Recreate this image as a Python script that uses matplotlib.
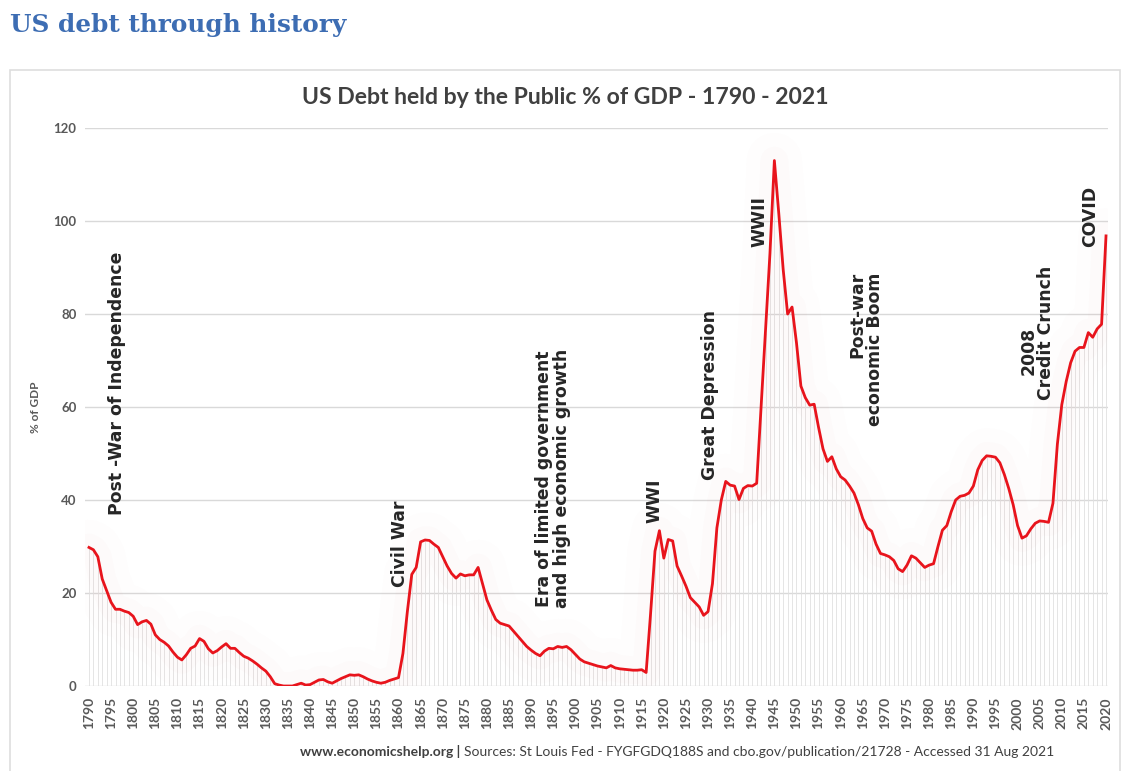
import numpy as np
import matplotlib
matplotlib.use("Agg")
import matplotlib.pyplot as plt
from matplotlib.patches import Rectangle

# US debt held by the public, % of GDP
years = list(range(1790, 2021))
debt_pct = [
    # 1790-1799
    29.8, 29.3, 27.8, 23.0, 20.5, 18.0, 16.5, 16.5, 16.1, 15.8,
    # 1800-1809
    15.0, 13.2, 13.8, 14.1, 13.3, 11.0, 10.0, 9.4, 8.6, 7.3,
    # 1810-1819
    6.2, 5.6, 6.7, 8.1, 8.6, 10.2, 9.6, 8.0, 7.1, 7.6,
    # 1820-1829
    8.4, 9.1, 8.1, 8.1, 7.2, 6.4, 6.0, 5.4, 4.7, 3.9,
    # 1830-1839
    3.2, 2.0, 0.5, 0.2, 0.0, 0.0, 0.0, 0.3, 0.6, 0.2,
    # 1840-1849
    0.3, 0.8, 1.3, 1.4, 0.9, 0.6, 1.1, 1.6, 2.0, 2.4,
    # 1850-1859
    2.3, 2.4, 2.0, 1.5, 1.1, 0.8, 0.6, 0.8, 1.2, 1.5,
    # 1860-1869
    1.8, 7.0, 16.0, 24.0, 25.5, 31.0, 31.4, 31.3, 30.5, 29.8,
    # 1870-1879
    27.8, 25.8, 24.2, 23.2, 24.1, 23.7, 23.9, 23.9, 25.5, 22.0,
    # 1880-1889
    18.5, 16.3, 14.3, 13.5, 13.2, 12.9, 11.8, 10.7, 9.6, 8.5,
    # 1890-1899
    7.7, 7.0, 6.5, 7.5, 8.1, 8.0, 8.5, 8.3, 8.5, 7.8,
    # 1900-1909
    6.8, 5.8, 5.2, 4.9, 4.6, 4.3, 4.1, 3.9, 4.4, 3.9,
    # 1910-1919
    3.7, 3.6, 3.5, 3.4, 3.4, 3.5, 2.9, 15.5, 29.0, 33.4,
    # 1920-1929
    27.5, 31.5, 31.2, 25.8, 23.7, 21.5, 19.0, 18.0, 17.0, 15.2,
    # 1930-1939
    16.0, 22.0, 34.0, 40.0, 44.0, 43.2, 43.0, 40.1, 42.5, 43.1,
    # 1940-1949
    43.0, 43.6, 60.0, 76.0, 93.0, 113.0, 101.6, 89.5, 80.0, 81.5,
    # 1950-1959
    73.8, 64.5, 62.0, 60.4, 60.6, 55.6, 51.0, 48.3, 49.3, 46.7,
    # 1960-1969
    45.0, 44.3, 43.0, 41.5, 39.0, 36.0, 34.0, 33.3, 30.5, 28.5,
    # 1970-1979
    28.2, 27.8, 27.0, 25.2, 24.6, 26.0, 28.0, 27.5, 26.5, 25.5,
    # 1980-1989
    26.0, 26.3, 30.0, 33.5, 34.5, 37.5, 40.0, 40.8, 41.0, 41.5,
    # 1990-1999
    43.0, 46.5, 48.5, 49.5, 49.4, 49.2, 48.0, 45.5, 42.5, 39.0,
    # 2000-2009
    34.5, 31.8, 32.3, 33.8, 35.0, 35.5, 35.4, 35.2, 39.3, 52.0,
    # 2010-2020
    60.5, 65.5, 69.5, 72.0, 72.8, 72.8, 76.0, 75.0, 76.8, 77.8, 96.8,
]

year_ticks = list(range(1790, 2021, 5))
y_ticks = [0, 20, 40, 60, 80, 100, 120]

# event labels: text, x (year), y (% of GDP) where the text starts
events = [
    ("Post -War of Independence", 1796.3, 36.8),
    ("Civil War", 1860.3, 21.3),
    ("Era of limited government\nand high economic growth", 1895.0, 16.8),
    ("WWI", 1918.0, 35.0),
    ("Great Depression", 1930.4, 44.3),
    ("WWII", 1941.6, 94.4),
    ("Post-war\neconomic Boom", 1965.8, 56.0),
    ("2008", 2002.4, 66.9),
    ("Credit Crunch", 2006.4, 61.5),
    ("COVID", 2016.4, 94.4),
]

grey = "#595959"
red = "#e8141c"

fig = plt.figure(figsize=(11.32, 7.71), dpi=100)
fig.patch.set_facecolor("white")

# outer page title
fig.text(10 / 1132, 1 - 25 / 771, "US debt through history", family="DejaVu Serif",
         weight="bold", size=17.8, color="#3d6db3", ha="left", va="center")

# chart frame
fig.patches.append(Rectangle((10 / 1132, -0.05), 1110 / 1132, 1 - 70 / 771 + 0.05,
                             transform=fig.transFigure, fill=False,
                             edgecolor="#dedede", lw=1.2))

fig.text(565 / 1132, 1 - 97 / 771, "US Debt held by the Public % of GDP - 1790 - 2021",
         family="Lato", weight="bold", size=16.6, color="#404040", ha="center", va="center")

ax = fig.add_axes([85 / 1132, 1 - 686 / 771, 1023 / 1132, 558 / 771])
ax.set_xlim(1789.1, 2020.45)
ax.set_ylim(0, 120)

# faint drop lines under every year
ax.vlines(years, 0, debt_pct, color="#e0e0e0", lw=0.6, zorder=1)
# very soft haze round the line
ax.plot(years, debt_pct, color=red, lw=40, alpha=0.008, solid_capstyle="round", zorder=1)
ax.plot(years, debt_pct, color=red, lw=20, alpha=0.01, solid_capstyle="round", zorder=1)
ax.plot(years, debt_pct, color=red, lw=2.0, zorder=3, solid_joinstyle="round")

ax.set_yticks(y_ticks)
ax.set_xticks(year_ticks)
ax.set_xticklabels([str(y) for y in year_ticks], rotation=90)
ax.grid(axis="y", color="#d9d9d9", lw=1.0)
ax.set_axisbelow(True)
for s in ax.spines.values():
    s.set_visible(False)
ax.tick_params(length=0)
ax.tick_params(axis="y", pad=6, labelsize=9.5, labelcolor=grey)
ax.tick_params(axis="x", pad=8, labelsize=10, labelcolor=grey)
for lab in ax.get_xticklabels() + ax.get_yticklabels():
    lab.set_fontweight("bold")
    lab.set_family("Lato")

ax.set_ylabel("% of GDP", family="Lato", weight="bold", size=8.5, color=grey, labelpad=9)

for text, x, y in events:
    ax.text(x, y, text, rotation=90, ha="center", va="bottom", family="DejaVu Sans",
            weight="bold", size=12.4, color="#262626", linespacing=1.0,
            multialignment="right" if text.startswith("Post-war") else "center")

# footer: bold site name followed by the sources in regular weight
foot_y = 1 - 752 / 771
site = fig.text(300 / 1132, foot_y, "www.economicshelp.org | ", family="Lato",
                weight="bold", size=10, color="#404040", ha="left", va="center")
fig.canvas.draw()
bb = site.get_window_extent(renderer=fig.canvas.get_renderer())
fig.text(bb.x1 / fig.bbox.width, foot_y,
         "Sources: St Louis Fed - FYGFGDQ188S and cbo.gov/publication/21728 - Accessed 31 Aug 2021",
         family="Lato", size=10, color="#404040", ha="left", va="center")

fig.savefig("out.png", dpi=100)
